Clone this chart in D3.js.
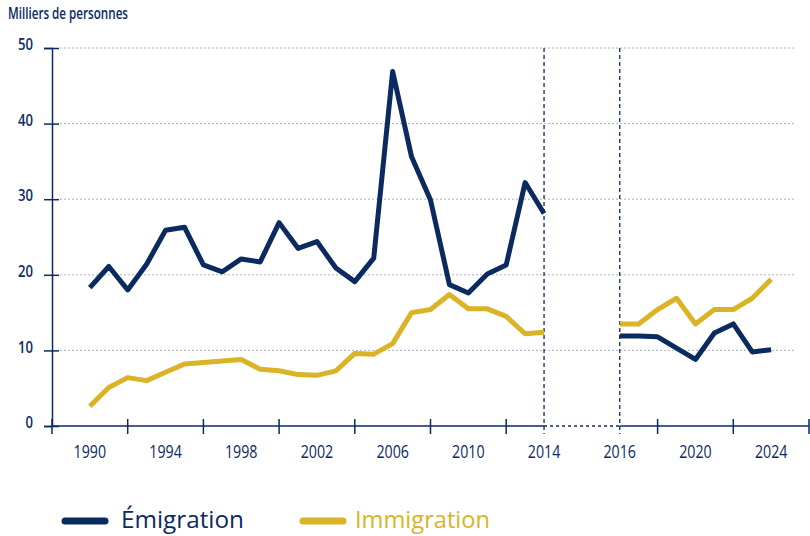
<!DOCTYPE html>
<html><head><meta charset="utf-8">
<script src="https://cdn.jsdelivr.net/npm/d3@7"></script>
<style>
html,body{margin:0;padding:0;background:#fff;}
svg{display:block;}
</style></head>
<body>
<svg id="chart" width="810" height="536"></svg>
<script>
const years1 = d3.range(1990, 2015);
const years2 = d3.range(2016, 2025);
const emigration1 = [18.3,21.1,18.0,21.4,25.9,26.3,21.3,20.4,22.1,21.7,26.9,23.5,24.4,20.9,19.1,22.2,46.9,35.6,29.9,18.7,17.6,20.1,21.3,32.2,28.1];
const immigration1 = [2.6,5.1,6.4,6.0,7.1,8.2,8.4,8.6,8.8,7.5,7.3,6.8,6.7,7.3,9.6,9.5,10.9,15.0,15.4,17.4,15.5,15.5,14.5,12.2,12.4];
const emigration2 = [11.9,11.9,11.8,10.3,8.8,12.3,13.5,9.8,10.1];
const immigration2 = [13.5,13.5,15.4,16.9,13.5,15.4,15.4,16.9,19.4];
const yTicks = [0,10,20,30,40,50];
const xLabels = [1990,1994,1998,2002,2006,2010,2014,2016,2020,2024];
const seriesNames = ["Émigration","Immigration"];
const colors = {"Émigration":"#0b2a5f","Immigration":"#dab326"};

// position index: 2014 and 2016 are separated by a gap of 4 slots
const pos = yr => yr <= 2014 ? yr - 1990 : yr - 1990 + 2;

const svg = d3.select("#chart");
const x = d3.scaleLinear().domain([-2, 38]).range([52, 809]);
const y = d3.scaleLinear().domain([0, 50]).range([426, 48]);
const navy = "#0b2a5f";
const font = "'Open Sans',sans-serif";

// axis title
svg.append("text").attr("x", 8).attr("y", 19).attr("fill", navy)
  .attr("textLength", 120).attr("lengthAdjust", "spacingAndGlyphs")
  .style("font-family", font).style("font-size", "16px").style("font-weight", 600)
  .text("Milliers de personnes");

// gridlines
svg.append("g").selectAll("line").data(yTicks.filter(d => d > 0)).join("line")
  .attr("x1", 60).attr("x2", 795)
  .attr("y1", d => y(d)).attr("y2", d => y(d))
  .attr("stroke", "#a8b2c6").attr("stroke-width", 1).attr("stroke-dasharray", "2,2");

// y axis
const yAxis = svg.append("g").attr("transform", "translate(52,0)")
  .call(d3.axisLeft(y).tickValues(yTicks).tickSize(8).tickPadding(11).tickFormat(d3.format("d")));
yAxis.select(".domain").attr("stroke", navy).attr("stroke-width", 1.5);
yAxis.selectAll(".tick line").attr("stroke", navy).attr("stroke-width", 1.5).attr("x2", 7).attr("x1", -8);
yAxis.selectAll(".tick text").attr("fill", navy).attr("dy", "0.1em")
  .attr("textLength", d => String(d).length * 7.5).attr("lengthAdjust", "spacingAndGlyphs")
  .style("font-family", font).style("font-size", "16.5px").style("font-weight", 600);

// x axis (two solid segments with dotted gap)
const tickPosSolid = [-2,2,6,10,14,18,22,30,34,38];
svg.append("line").attr("x1", x(-2)).attr("x2", x(24)).attr("y1", y(0)).attr("y2", y(0))
  .attr("stroke", navy).attr("stroke-width", 1.5);
svg.append("line").attr("x1", x(28)).attr("x2", x(38)).attr("y1", y(0)).attr("y2", y(0))
  .attr("stroke", navy).attr("stroke-width", 1.5);
svg.append("line").attr("x1", x(24)).attr("x2", x(28)).attr("y1", y(0)).attr("y2", y(0))
  .attr("stroke", navy).attr("stroke-width", 1.5).attr("stroke-dasharray", "3,3");
svg.append("g").selectAll("line").data(tickPosSolid).join("line")
  .attr("x1", d => x(d)).attr("x2", d => x(d))
  .attr("y1", y(0) - 7).attr("y2", y(0) + 8)
  .attr("stroke", navy).attr("stroke-width", 1.5);
svg.append("g").selectAll("text").data(xLabels).join("text")
  .attr("x", d => x(pos(d))).attr("y", 458).attr("text-anchor", "middle")
  .attr("textLength", 32.5).attr("lengthAdjust", "spacingAndGlyphs")
  .attr("fill", navy).style("font-family", font).style("font-size", "18.5px")
  .text(d => d);

// vertical dashed separators at 2014 and 2016
svg.append("g").selectAll("line").data([2014, 2016]).join("line")
  .attr("x1", d => x(pos(d))).attr("x2", d => x(pos(d)))
  .attr("y1", y(50)).attr("y2", y(0) + 8)
  .attr("stroke", navy).attr("stroke-width", 1.3).attr("stroke-dasharray", "4,3");

// lines
const line = d3.line().x(d => x(pos(d[0]))).y(d => y(d[1]));
const segs = [
  {name: "Immigration", years: years1, vals: immigration1},
  {name: "Immigration", years: years2, vals: immigration2},
  {name: "Émigration", years: years1, vals: emigration1},
  {name: "Émigration", years: years2, vals: emigration2}
];
svg.append("g").selectAll("path").data(segs).join("path")
  .attr("d", s => line(s.years.map((yr, i) => [yr, s.vals[i]])))
  .attr("fill", "none").attr("stroke", s => colors[s.name])
  .attr("stroke-width", 5).attr("stroke-linejoin", "round").attr("stroke-linecap", "butt");

// legend
const leg = [{name: seriesNames[0], x: 62, tx: 121, w: 123}, {name: seriesNames[1], x: 300, tx: 355, w: 135}];
const lg = svg.append("g").selectAll("g").data(leg).join("g");
lg.append("line").attr("x1", d => d.x + 3).attr("x2", d => d.x + 43)
  .attr("y1", 521).attr("y2", 521).attr("stroke", d => colors[d.name])
  .attr("stroke-width", 7).attr("stroke-linecap", "round");
lg.append("text").attr("x", d => d.tx).attr("y", 528)
  .attr("textLength", d => d.w).attr("lengthAdjust", "spacingAndGlyphs")
  .attr("fill", d => colors[d.name])
  .style("font-family", font).style("font-size", "24px")
  .text(d => d.name);
</script>
</body></html>
